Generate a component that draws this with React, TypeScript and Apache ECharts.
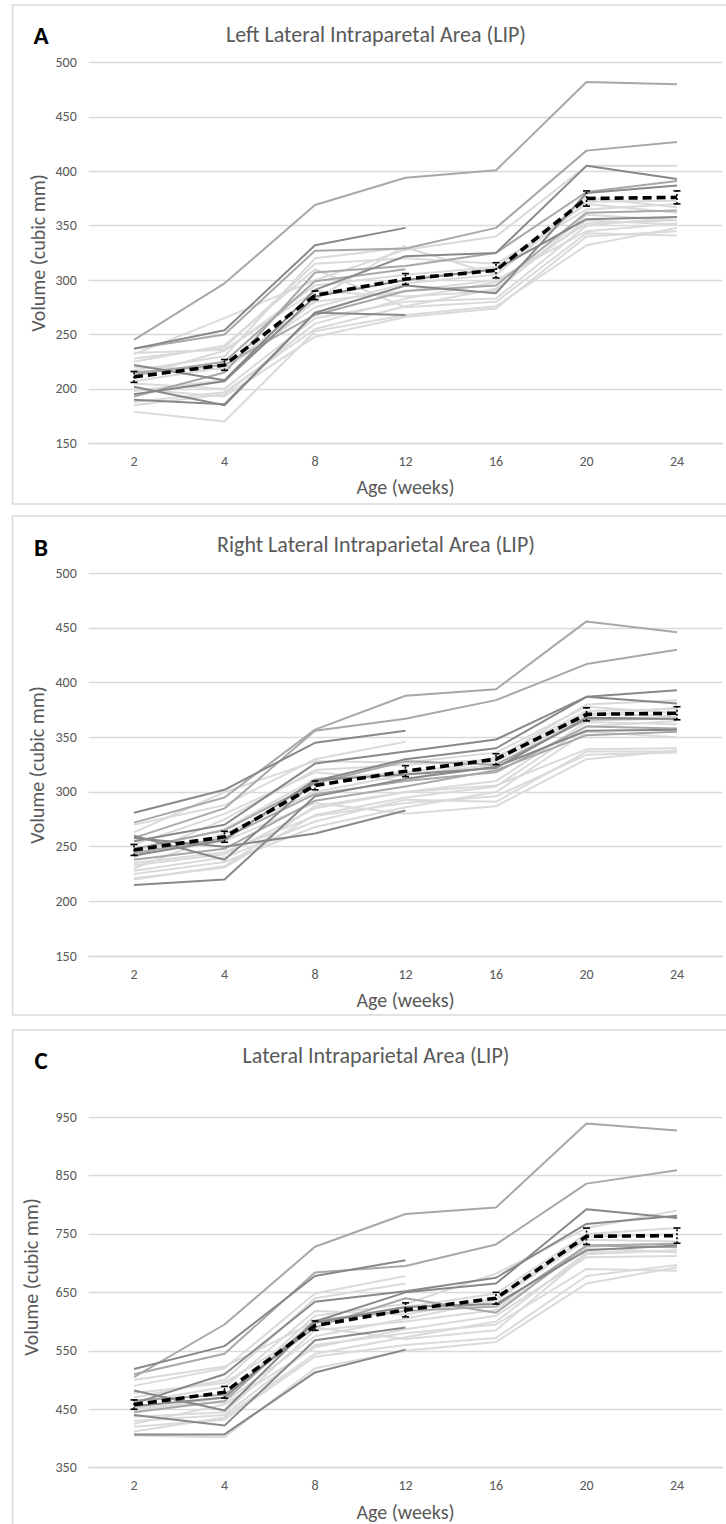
import React, { useEffect, useRef } from "react";
import * as echarts from "echarts";

// Age at scan (weeks)
const WEEKS = ["2", "4", "8", "12", "16", "20", "24"];

// Left LIP volume per subject (cubic mm); null = no scan at that age
const LEFT_SUBJECTS: (number | null)[][] = [
  [245, 297, 369, 394, 401, 482, 480],
  [237, 250, 327, 329, 348, 419, 427],
  [237, 254, 332, 348, null, null, null],
  [222, 208, 291, 322, 325, 405, 393],
  [202, 185, 270, 295, 288, 380, 387],
  [179, 170, 253, 268, 276, 332, 348],
  [232, 265, 300, 328, 340, 405, 405],
  [193, 215, 307, 313, 325, 381, 391],
  [195, 207, 285, 300, 310, 356, 358],
  [228, 238, 315, 320, 315, 365, 370],
  [217, 230, 320, 330, 305, 376, 367],
  [185, 195, 260, 283, 298, 352, 355],
  [207, 220, 280, 290, 300, 345, 352],
  [211, 235, 295, 305, 312, 370, 362],
  [225, 240, 310, 275, 280, 343, 341],
  [215, 222, 268, 290, 295, 362, 364],
  [200, 193, 248, 266, 274, 340, 345],
  [233, 236, 290, 285, 290, 360, 355],
  [205, 200, 265, 280, 283, 350, 358],
  [220, 218, 275, 297, 305, 372, 373],
  [190, 186, 270, 268, null, null, null],
  [198, 208, 282, 332, null, null, null],
  [213, 225, 299, 310, null, null, null],
  [188, 197, 255, 276, 292, 355, 351],
];
const LEFT_SHADES = ["m", "m", "d", "d", "d", "l", "l", "m", "d", "l", "l", "l", "l", "l", "l", "m", "l", "l", "l", "l", "d", "l", "m", "l"];
const LEFT_MEAN = [211, 222, 286, 301, 309, 375, 376];
const LEFT_SEM = [5, 5, 4, 5, 7, 7, 6];

// Right LIP volume per subject (cubic mm)
const RIGHT_SUBJECTS: (number | null)[][] = [
  [272, 295, 357, 388, 394, 456, 446],
  [258, 285, 356, 367, 384, 417, 430],
  [281, 302, 345, 356, null, null, null],
  [255, 270, 326, 337, 348, 387, 393],
  [260, 238, 310, 330, 340, 387, 381],
  [258, 250, 262, 283, null, null, null],
  [215, 220, 296, 312, 323, 356, 357],
  [248, 265, 308, 328, 325, 366, 367],
  [270, 288, 330, 346, null, null, null],
  [240, 275, 320, 325, 330, 380, 384],
  [230, 262, 300, 316, 325, 370, 377],
  [220, 232, 287, 300, 306, 339, 340],
  [235, 245, 278, 290, 296, 334, 336],
  [245, 255, 290, 280, 287, 330, 338],
  [228, 240, 273, 293, 291, 337, 337],
  [238, 248, 292, 305, 320, 352, 355],
  [252, 280, 318, 310, 332, 374, 376],
  [263, 300, 328, 327, 336, 378, 372],
  [225, 236, 268, 286, 300, 355, 350],
  [244, 258, 298, 310, 318, 360, 358],
  [233, 243, 285, 300, 310, 364, 362],
  [246, 266, 312, 318, 328, 372, 369],
  [221, 231, 279, 295, 305, 360, 365],
  [242, 256, 311, 316, 322, 368, 367],
];
const RIGHT_SHADES = ["m", "m", "d", "d", "d", "d", "d", "m", "l", "l", "l", "l", "l", "l", "l", "m", "l", "l", "l", "m", "l", "l", "l", "d"];
const RIGHT_MEAN = [247, 259, 306, 319, 330, 371, 372];
const RIGHT_SEM = [5, 5, 4, 5, 5, 6, 6];

// Bilateral LIP volume per subject (cubic mm)
const TOTAL_SUBJECTS: (number | null)[][] = [
  [505, 595, 728, 784, 795, 939, 927],
  [510, 545, 684, 695, 732, 836, 859],
  [519, 558, 678, 705, null, null, null],
  [482, 448, 600, 650, 665, 792, 777],
  [460, 510, 634, 652, 675, 767, 781],
  [407, 407, 513, 552, null, null, null],
  [440, 422, 568, 590, null, null, null],
  [465, 475, 590, 640, 615, 730, 733],
  [455, 470, 598, 625, 630, 722, 730],
  [490, 520, 648, 678, null, null, null],
  [470, 500, 640, 665, null, null, null],
  [448, 470, 610, 630, 682, 760, 790],
  [430, 440, 560, 580, 595, 690, 687],
  [405, 402, 520, 550, 565, 665, 693],
  [420, 432, 540, 560, 572, 678, 697],
  [500, 523, 600, 625, 648, 750, 760],
  [478, 495, 590, 570, 585, 715, 722],
  [437, 445, 585, 600, 620, 726, 718],
  [452, 462, 575, 605, 636, 740, 737],
  [425, 458, 556, 587, 610, 710, 712],
  [445, 464, 602, 618, 626, 730, 727],
  [462, 488, 618, 612, 640, 745, 750],
  [412, 436, 545, 573, 600, 718, 721],
];
const TOTAL_SHADES = ["m", "m", "d", "d", "d", "d", "d", "m", "d", "l", "l", "l", "l", "l", "l", "l", "l", "l", "l", "l", "m", "l", "l"];
const TOTAL_MEAN = [458, 479, 593, 620, 640, 746, 747];
const TOTAL_SEM = [8, 10, 8, 12, 10, 14, 13];

const SHADE_COLOR: Record<string, string> = { l: "#dadada", m: "#a8a8a8", d: "#888888" };
const SHADE_ORDER: Record<string, number> = { l: 0, m: 1, d: 2 };

const FONT = "Carlito, Lato, sans-serif";
const TEXT_GRAY = "#595959";
const GRID_GRAY = "#d9d9d9";
const GRID_LEFT = 88.75;

type Panel = {
  letter: string;
  title: string;
  subjects: (number | null)[][];
  shades: string[];
  mean: number[];
  sem: number[];
  yMin: number;
  yMax: number;
  yStep: number;
  top: number;
  height: number;
  frameTop: number;
  frameBottom: number;
  letterY: number;
  titleY: number;
  nameX: number;
  nameY: number;
};

const PANELS: Panel[] = [
  {
    letter: "A", title: "Left Lateral Intraparetal Area (LIP)",
    subjects: LEFT_SUBJECTS, shades: LEFT_SHADES, mean: LEFT_MEAN, sem: LEFT_SEM,
    yMin: 150, yMax: 500, yStep: 50, top: 62.5, height: 380.8,
    frameTop: 5, frameBottom: 504, letterY: 35, titleY: 34, nameX: 38, nameY: 253,
  },
  {
    letter: "B", title: "Right Lateral Intraparietal Area (LIP)",
    subjects: RIGHT_SUBJECTS, shades: RIGHT_SHADES, mean: RIGHT_MEAN, sem: RIGHT_SEM,
    yMin: 150, yMax: 500, yStep: 50, top: 573.3, height: 382.7,
    frameTop: 516, frameBottom: 1015, letterY: 547, titleY: 544, nameX: 37, nameY: 765,
  },
  {
    letter: "C", title: "Lateral Intraparietal Area (LIP)",
    subjects: TOTAL_SUBJECTS, shades: TOTAL_SHADES, mean: TOTAL_MEAN, sem: TOTAL_SEM,
    yMin: 350, yMax: 950, yStep: 100, top: 1117, height: 350.7,
    frameTop: 1030, frameBottom: 1560, letterY: 1060, titleY: 1055, nameX: 31, nameY: 1277,
  },
];

function buildOption() {
  const grid: any[] = [];
  const xAxis: any[] = [];
  const yAxis: any[] = [];
  const series: any[] = [];
  const graphic: any[] = [];

  PANELS.forEach((p, i) => {
    grid.push({ left: GRID_LEFT, right: 3.75, top: p.top, height: p.height, containLabel: false });
    xAxis.push({
      gridIndex: i,
      type: "category",
      data: WEEKS,
      boundaryGap: true,
      axisLine: { show: true, lineStyle: { color: GRID_GRAY, width: 1.3 } },
      axisTick: { show: false },
      axisLabel: { color: TEXT_GRAY, fontFamily: FONT, fontSize: 14, margin: 11 },
      name: "Age (weeks)",
      nameLocation: "middle",
      nameGap: 34,
      nameTextStyle: { color: TEXT_GRAY, fontFamily: FONT, fontSize: 20 },
    });
    yAxis.push({
      gridIndex: i,
      type: "value",
      min: p.yMin,
      max: p.yMax,
      interval: p.yStep,
      axisLine: { show: false },
      axisTick: { show: false },
      splitLine: { show: true, lineStyle: { color: GRID_GRAY, width: 1.3 } },
      axisLabel: { color: TEXT_GRAY, fontFamily: FONT, fontSize: 14, margin: 12 },
    });

    // individual subjects, lightest first so the darker traces sit on top
    const order = p.subjects.map((_, k) => k).sort((a, b) => SHADE_ORDER[p.shades[a]] - SHADE_ORDER[p.shades[b]]);
    order.forEach((k) => {
      series.push({
        type: "line",
        xAxisIndex: i,
        yAxisIndex: i,
        data: p.subjects[k],
        symbol: "none",
        connectNulls: false,
        silent: true,
        z: 2 + SHADE_ORDER[p.shades[k]],
        lineStyle: { color: SHADE_COLOR[p.shades[k]], width: 2 },
      });
    });

    // group mean
    series.push({
      type: "line",
      xAxisIndex: i,
      yAxisIndex: i,
      data: p.mean,
      symbol: "none",
      silent: true,
      z: 10,
      lineStyle: { color: "#000000", width: 3.6, type: [9, 5] },
    });

    // standard error bars on the mean
    series.push({
      type: "custom",
      xAxisIndex: i,
      yAxisIndex: i,
      z: 11,
      silent: true,
      data: p.mean.map((m, k) => [k, m - p.sem[k], m + p.sem[k]]),
      renderItem: (params: any, api: any) => {
        const lo = api.coord([api.value(0), api.value(1)]);
        const hi = api.coord([api.value(0), api.value(2)]);
        const cap = 3.5;
        const style = { stroke: "#000000", lineWidth: 1.6 };
        return {
          type: "group",
          children: [
            { type: "line", shape: { x1: lo[0], y1: lo[1], x2: hi[0], y2: hi[1] }, style: { ...style, lineDash: [2, 2] } },
            { type: "line", shape: { x1: lo[0] - cap, y1: lo[1], x2: lo[0] + cap, y2: lo[1] }, style },
            { type: "line", shape: { x1: hi[0] - cap, y1: hi[1], x2: hi[0] + cap, y2: hi[1] }, style },
          ],
        };
      },
    });

    // panel frame, letter, title and vertical axis title
    graphic.push({
      type: "rect",
      shape: { x: 12.5, y: p.frameTop, width: 800, height: p.frameBottom - p.frameTop },
      style: { fill: "none", stroke: GRID_GRAY, lineWidth: 1.5 },
      silent: true,
      z: 0,
    });
    graphic.push({
      type: "text",
      x: 41,
      y: p.letterY,
      style: {
        text: p.letter,
        fill: "#000000",
        font: `bold 25px ${FONT}`,
        align: "center",
        verticalAlign: "middle",
      },
    });
    graphic.push({
      type: "text",
      x: 376,
      y: p.titleY,
      style: {
        text: p.title,
        fill: TEXT_GRAY,
        font: `22px ${FONT}`,
        align: "center",
        verticalAlign: "middle",
      },
    });
    graphic.push({
      type: "text",
      x: p.nameX,
      y: p.nameY,
      rotation: Math.PI / 2,
      style: {
        text: "Volume (cubic mm)",
        fill: TEXT_GRAY,
        font: `20px ${FONT}`,
        align: "center",
        verticalAlign: "middle",
      },
    });
  });

  return {
    animation: false,
    backgroundColor: "#ffffff",
    grid,
    xAxis,
    yAxis,
    series,
    graphic,
  };
}

export default function App() {
  const ref = useRef<HTMLDivElement>(null);

  useEffect(() => {
    if (!ref.current) return;
    const chart = echarts.init(ref.current, undefined, { renderer: "svg" });
    chart.setOption(buildOption() as any);
    return () => chart.dispose();
  }, []);

  return (
    <div
      ref={ref}
      style={{ position: "absolute", left: 0, top: 0, width: 726, height: 1524, background: "#ffffff" }}
    />
  );
}
